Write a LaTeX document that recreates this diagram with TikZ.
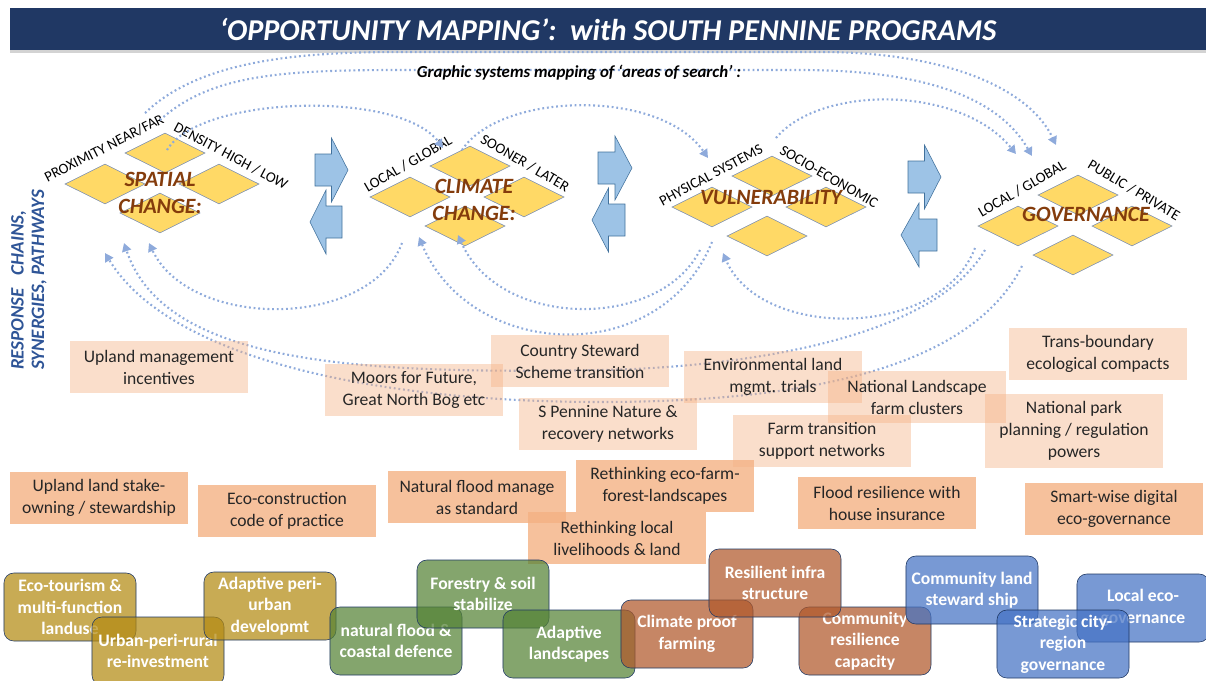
\documentclass[tikz,border=0pt]{standalone}
\usepackage{fontspec}
\setmainfont{Carlito}
\usepackage{tikz}
\usetikzlibrary{arrows.meta,positioning,shapes.geometric,shadows}

\definecolor{barnavy}{HTML}{203864}
\definecolor{gemyellow}{HTML}{FFD966}
\definecolor{gemedge}{HTML}{7A8FB5}
\definecolor{capbrown}{HTML}{843C0C}
\definecolor{linkblue}{HTML}{8EAADB}
\definecolor{arrowfill}{HTML}{9DC3E6}
\definecolor{arrowedge}{HTML}{41719C}
\definecolor{peach}{HTML}{F4B183}
\definecolor{sidenavy}{HTML}{2F5597}
\definecolor{tilegold}{HTML}{B38A12}
\definecolor{tilegreen}{HTML}{548235}
\definecolor{tilerust}{HTML}{B0582A}
\definecolor{tileblue}{HTML}{4472C4}
\definecolor{tileedge}{HTML}{1F3864}

\begin{document}
\begin{tikzpicture}[x=0.025cm,y=0.025cm]
    \tikzset{
      titlebar/.style={rectangle,fill=barnavy,text=white,minimum width=29.9cm,minimum height=1.05cm,font=\fontsize{21.5}{25}\selectfont\bfseries\itshape,drop shadow={shadow xshift=0pt,shadow yshift=-2pt,opacity=0.35}},
      subtitle/.style={font=\fontsize{12}{14}\selectfont\bfseries\itshape,inner sep=1pt},
      gem/.style={diamond,draw=gemedge,fill=gemyellow,thin,inner sep=0pt,minimum width=2cm,minimum height=1cm},
      gemlabel/.style={text=capbrown,align=center,font=\fontsize{15.5}{19}\selectfont\bfseries\itshape},
      axislabel/.style={font=\fontsize{10.5}{12}\selectfont,inner sep=1pt},
      sidelabel/.style={rotate=90,align=left,text=sidenavy,font=\fontsize{13.5}{14.5}\selectfont\bfseries\itshape},
      link/.style={draw=linkblue,line width=1.5pt,dash pattern=on 1.3pt off 2pt,-{Triangle[length=6pt,width=6.5pt]}},
      swaparrow/.style={fill=arrowfill,draw=arrowedge,thin,line join=miter},
      paleidea/.style={rectangle,fill=peach,fill opacity=0.42,text opacity=1,text=black!85,minimum width=4.45cm,minimum height=1.3cm,align=center,font=\fontsize{12.5}{15.6}\selectfont},
      idea/.style={paleidea,fill opacity=0.8},
      tile/.style={rectangle,rounded corners=7pt,draw=tileedge,fill opacity=0.72,text opacity=1,text=white,minimum width=3.3cm,minimum height=1.7cm,align=center,font=\fontsize{12.5}{15.3}\selectfont\bfseries}
    }
    \useasboundingbox (0,0) rectangle (1206,-680);

    % heading
    \node[titlebar](title) at (608,-29){‘OPPORTUNITY MAPPING’:\ \ with SOUTH PENNINE PROGRAMS};

    % four diamond clusters
    \foreach \g/\x/\y in {sp/165/153,cl/470/166,vu/772/176,go/1078/195}{
      \node[gem](\g-t) at (\x,-\y){};
      \node[gem](\g-l) at (\x-60,-\y-31){};
      \node[gem](\g-r) at (\x+54,-\y-31){};
      \node[gem](\g-b) at (\x-5,-\y-60){};
    }
    \node[gemlabel](spatial) at (160,-193){SPATIAL\\CHANGE:};
    \node[gemlabel](climate) at (474,-200){CLIMATE\\CHANGE:};
    \node[gemlabel](vulner) at (771,-198){VULNERABILITY};
    \node[gemlabel](govern) at (1086,-214){GOVERNANCE};

    \node[axislabel,rotate=27](proximity) at (104,-148){PROXIMITY NEAR/FAR};
    \node[axislabel,rotate=-28](density) at (231,-156){DENSITY HIGH / LOW};
    \node[axislabel,rotate=30](cllocal) at (408,-164){LOCAL / GLOBAL};
    \node[axislabel,rotate=-30](sooner) at (525,-163){SOONER / LATER};
    \node[axislabel,rotate=28](physical) at (711,-175){PHYSICAL SYSTEMS};
    \node[axislabel,rotate=-30](socio) at (829,-177){SOCIO-ECONOMIC};
    \node[axislabel,rotate=30](golocal) at (1022,-189){LOCAL / GLOBAL};
    \node[axislabel,rotate=-31](public) at (1134,-190){PUBLIC / PRIVATE};

    \node[sidelabel](pathways) at (29,-280){RESPONSE\ \ \ CHAINS,\\SYNERGIES, PATHWAYS};

    % block arrows between clusters
    \foreach \bx/\tx/\cy in {315/348/170,342/310/222,598/632/168,625/592/220,908/941/177,937/901/235}
      \draw[swaparrow](\bx,16-\cy) -- ({(\bx+\tx)/2},16-\cy) -- ({(\bx+\tx)/2},32-\cy) -- (\tx,-\cy)
        -- ({(\bx+\tx)/2},-32-\cy) -- ({(\bx+\tx)/2},-16-\cy) -- (\bx,-16-\cy) -- cycle;

    % ends of the mapping loops
    \coordinate (t1a) at (167,-150); \coordinate (t1b) at (443,-148);
    \coordinate (t2a) at (462,-150); \coordinate (t2b) at (708,-158);
    \coordinate (t3a) at (776,-138); \coordinate (t3b) at (1016,-154);
    \coordinate (t4a) at (160,-120); \coordinate (t4b) at (1032,-156);
    \coordinate (t5a) at (145,-113); \coordinate (t5b) at (1056,-145);
    \coordinate (b1a) at (402,-243); \coordinate (b1b) at (149,-243);
    \coordinate (b2a) at (985,-250); \coordinate (b2b) at (124,-243);
    \coordinate (b3a) at (1022,-266); \coordinate (b3b) at (105,-253);
    \coordinate (b4a) at (712,-242); \coordinate (b4b) at (419,-237);
    \coordinate (b5a) at (700,-250); \coordinate (b5b) at (458,-235);
    \coordinate (b6a) at (975,-248); \coordinate (b6b) at (723,-253);

    \draw[link](t1a) .. controls (200,-95) and (400,-90) .. (t1b);
    \draw[link](t2a) .. controls (500,-92) and (660,-88) .. (t2b);
    \draw[link](t3a) .. controls (820,-85) and (960,-85) .. (t3b);
    \draw[link](t4a) .. controls (210,-75) and (280,-70) .. (400,-70) -- (800,-70) .. controls (930,-70) and (1000,-100) .. (t4b);
    \draw[link](t5a) .. controls (200,-60) and (300,-52) .. (400,-52) -- (820,-52) .. controls (950,-52) and (1030,-90) .. (t5b);
    \draw[link](b1a) .. controls (370,-330) and (190,-330) .. (b1b);
    \draw[link](b2a) .. controls (930,-345) and (720,-368) .. (600,-370) .. controls (360,-374) and (165,-365) .. (b2b);
    \draw[link](b3a) .. controls (970,-370) and (800,-402) .. (600,-402) .. controls (380,-402) and (170,-360) .. (b3b);
    \draw[link](b4a) .. controls (660,-370) and (470,-360) .. (b4b);
    \draw[link](b5a) .. controls (660,-330) and (500,-330) .. (b5b);
    \draw[link](b6a) .. controls (940,-340) and (760,-340) .. (b6b);

    \node[subtitle](search) at (579,-73){Graphic systems mapping of ‘areas of search’ :};

    % programme ideas
    \node[paleidea](upland) at (159,-367){Upland management\\incentives};
    \node[paleidea](moors) at (414,-390){Moors for Future,\\Great North Bog etc};
    \node[paleidea](steward) at (580,-361){Country Steward\\Scheme transition};
    \node[paleidea](envland) at (773,-377){Environmental land\\mgmt. trials};
    \node[paleidea](spennine) at (608,-424){S Pennine Nature \&\\recovery networks};
    \node[paleidea](natland) at (917,-397){National Landscape\\farm clusters};
    \node[paleidea](transb) at (1098,-354){Trans-boundary\\ecological compacts};
    \node[paleidea,minimum height=1.83cm](natpark) at (1074,-431){National park\\planning / regulation\\powers};
    \node[paleidea](farmtrans) at (822,-441){Farm transition\\support networks};

    \node[idea](stake) at (99,-498){Upland land stake-\\owning / stewardship};
    \node[idea](ecocons) at (287,-511){Eco-construction\\code of practice};
    \node[idea](natflood) at (477,-497){Natural flood manage\\as standard};
    \node[idea](ecofarm) at (665,-486){Rethinking eco-farm-\\forest-landscapes};
    \node[idea](livelihood) at (617,-538){Rethinking local\\livelihoods \& land};
    \node[idea](floodres) at (887,-503){Flood resilience with\\house insurance};
    \node[idea](smartwise) at (1114,-509){Smart-wise digital\\eco-governance};

    % action tiles
    \node[tile,fill=tilegold](ecotour) at (70,-607){Eco-tourism \&\\multi-function\\landuse};
    \node[tile,fill=tilegold](urbanperi) at (158,-651){Urban-peri-rural\\re-investment};
    \node[tile,fill=tilegold](adaptperi) at (270,-606){Adaptive peri-\\urban\\developmt};
    \node[tile,fill=tilegreen](coastal) at (396,-641){natural flood \&\\coastal defence};
    \node[tile,fill=tilegreen](forestry) at (483,-594){Forestry \& soil\\stabilize};
    \node[tile,fill=tilegreen](adaptland) at (569,-644){Adaptive\\landscapes};
    \node[tile,fill=tilerust](climproof) at (687,-634){Climate proof\\farming};
    \node[tile,fill=tilerust](commres) at (865,-641){Community\\resilience\\capacity};
    \node[tile,fill=tilerust](resinfra) at (775,-583){Resilient infra\\structure};
    \node[tile,fill=tileblue](commland) at (972,-590){Community land\\steward ship};
    \node[tile,fill=tileblue](localeco) at (1143,-608){Local eco-\\governance};
    \node[tile,fill=tileblue](strategic) at (1063,-644){Strategic city-\\region\\governance};
  \end{tikzpicture}
\end{document}
